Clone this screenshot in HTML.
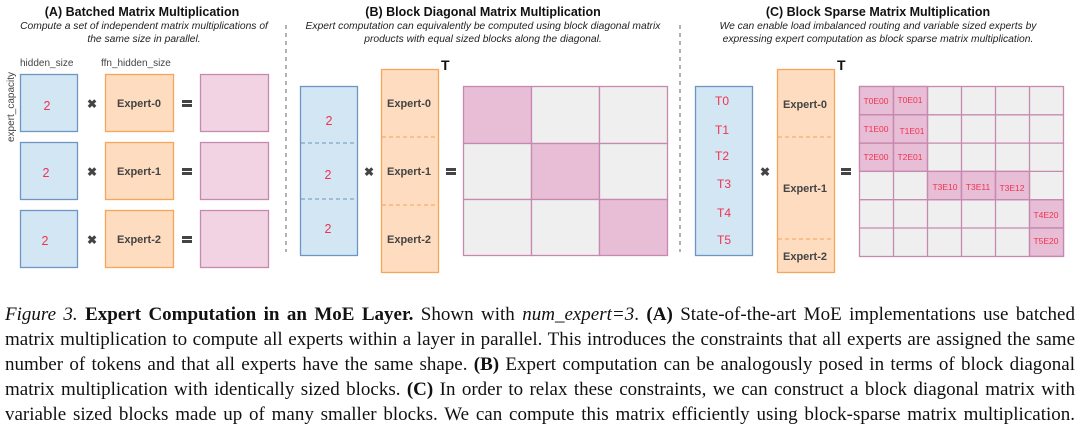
<!DOCTYPE html>
<html><head><meta charset="utf-8"><style>
body{margin:0;width:1080px;height:427px;background:#fff;overflow:hidden;position:relative}
svg{position:absolute;left:0;top:0}
.cap{position:absolute;left:5px;width:1070px;font-family:"Liberation Serif",serif;font-size:19px;color:#111;line-height:25px}
.cap div{text-align:justify;text-align-last:justify;white-space:nowrap;height:25px}
</style></head><body>
<svg width="1080" height="290" viewBox="0 0 1080 290" font-family="Liberation Sans, sans-serif">
<g font-weight="bold" font-size="12.5" fill="#111" text-anchor="middle">
<text x="142" y="16">(A) Batched Matrix Multiplication</text>
<text x="483" y="16">(B) Block Diagonal Matrix Multiplication</text>
<text x="878" y="16">(C) Block Sparse Matrix Multiplication</text>
</g>
<g font-style="italic" font-size="10.3" fill="#222" text-anchor="middle">
<text x="144" y="29">Compute a set of independent matrix multiplications of</text>
<text x="144" y="42">the same size in parallel.</text>
<text x="483" y="29">Expert computation can equivalently be computed using block diagonal matrix</text>
<text x="483" y="42">products with equal sized blocks along the diagonal.</text>
<text x="878" y="29">We can enable load imbalanced routing and variable sized experts by</text>
<text x="878" y="42">expressing expert computation as block sparse matrix multiplication.</text>
</g>
<g stroke="#666" stroke-dasharray="4,4" stroke-width="1"><line x1="286" y1="25" x2="286" y2="252"/><line x1="680" y1="25" x2="680" y2="252"/></g>
<g font-size="10" fill="#444"><text x="20" y="66">hidden_size</text><text x="101" y="66">ffn_hidden_size</text>
<text transform="translate(14,142) rotate(-90)">expert_capacity</text></g>
<g stroke-width="1.3">
<rect x="20.5" y="74.5" width="57" height="57" fill="#d3e6f4" stroke="#6e96c3"/>
<rect x="20.5" y="142.5" width="57" height="57" fill="#d3e6f4" stroke="#6e96c3"/>
<rect x="20.5" y="210.5" width="57" height="57" fill="#d3e6f4" stroke="#6e96c3"/>
<rect x="105.5" y="74.5" width="68" height="57" fill="#fedcbf" stroke="#f6a55a"/>
<rect x="105.5" y="142.5" width="68" height="57" fill="#fedcbf" stroke="#f6a55a"/>
<rect x="105.5" y="210.5" width="68" height="57" fill="#fedcbf" stroke="#f6a55a"/>
<rect x="200.5" y="74.5" width="68" height="57" fill="#f1d3e4" stroke="#c68ab0"/>
<rect x="200.5" y="142.5" width="68" height="57" fill="#f1d3e4" stroke="#c68ab0"/>
<rect x="200.5" y="210.5" width="68" height="57" fill="#f1d3e4" stroke="#c68ab0"/>
</g>
<g font-size="12.5" fill="#f0334f" text-anchor="middle"><text x="47" y="110">2</text><text x="46" y="177">2</text><text x="45" y="245">2</text></g>
<g font-size="11" font-weight="bold" fill="#444" text-anchor="middle"><text x="139" y="107">Expert-0</text><text x="139" y="175">Expert-1</text><text x="139" y="243">Expert-2</text></g>
<g font-size="12" fill="#444" text-anchor="middle" font-weight="bold">
<text x="92" y="108">✖</text><text x="92" y="176">✖</text><text x="92" y="244">✖</text>
<text x="369" y="176">✖</text><text x="765" y="176">✖</text></g>
<g fill="#444"><rect x="182" y="100" width="10" height="3"/><rect x="182" y="104" width="10" height="3"/>
<rect x="182" y="168" width="10" height="3"/><rect x="182" y="172" width="10" height="3"/>
<rect x="182" y="236" width="10" height="3"/><rect x="182" y="240" width="10" height="3"/>
<rect x="446" y="168" width="10" height="3"/><rect x="446" y="172" width="10" height="3"/>
<rect x="841" y="168" width="10" height="3"/><rect x="841" y="172" width="10" height="3"/></g>
<rect x="300.5" y="86.5" width="57" height="169" fill="#d3e6f4" stroke="#6e96c3" stroke-width="1.3"/>
<g stroke="#6e96c3" stroke-dasharray="4,3"><line x1="301" y1="143" x2="357" y2="143"/><line x1="301" y1="199" x2="357" y2="199"/>
<line x1="696" y1="171" x2="752" y2="171"/><line x1="696" y1="199" x2="752" y2="199"/></g>
<g font-size="12.5" fill="#f0334f" text-anchor="middle"><text x="329" y="125">2</text><text x="328" y="179">2</text><text x="328" y="233">2</text></g>
<rect x="381.5" y="69.5" width="57" height="203" fill="#fedcbf" stroke="#f6a55a" stroke-width="1.3"/>
<rect x="777.5" y="69.5" width="57" height="203" fill="#fedcbf" stroke="#f6a55a" stroke-width="1.3"/>
<g stroke="#f6a55a" stroke-dasharray="4,3"><line x1="382" y1="137" x2="438" y2="137"/><line x1="382" y1="205" x2="438" y2="205"/>
<line x1="778" y1="137" x2="834" y2="137"/><line x1="778" y1="239" x2="834" y2="239"/></g>
<g font-size="11" font-weight="bold" fill="#444" text-anchor="middle"><text x="409" y="107">Expert-0</text><text x="409" y="175">Expert-1</text><text x="409" y="243">Expert-2</text>
<text x="805" y="108">Expert-0</text><text x="805" y="192">Expert-1</text><text x="805" y="260">Expert-2</text></g>
<g font-size="14" font-weight="bold" fill="#111"><text x="441" y="70">T</text><text x="837" y="70">T</text></g>
<g stroke="#c68ab0" stroke-width="1.3">
<rect x="463.5" y="86.5" width="68" height="57" fill="#e8bdd6"/><rect x="531.5" y="86.5" width="68" height="57" fill="#efefef"/><rect x="599.5" y="86.5" width="68" height="57" fill="#efefef"/>
<rect x="463.5" y="143.5" width="68" height="56" fill="#efefef"/><rect x="531.5" y="143.5" width="68" height="56" fill="#e8bdd6"/><rect x="599.5" y="143.5" width="68" height="56" fill="#efefef"/>
<rect x="463.5" y="199.5" width="68" height="56" fill="#efefef"/><rect x="531.5" y="199.5" width="68" height="56" fill="#efefef"/><rect x="599.5" y="199.5" width="68" height="56" fill="#e8bdd6"/>
</g>
<rect x="695.5" y="86.5" width="57" height="169" fill="#d3e6f4" stroke="#6e96c3" stroke-width="1.3"/>
<g font-size="12" fill="#f0334f" text-anchor="middle"><text x="722" y="105">T0</text><text x="722" y="134">T1</text><text x="722" y="160">T2</text><text x="724" y="188">T3</text><text x="724" y="217">T4</text><text x="724" y="244">T5</text></g>
<rect x="859.5" y="86.5" width="204" height="170" stroke="#c68ab0" stroke-width="1.3" fill="#efefef"/>
<g stroke="#c68ab0" stroke-width="1.3" fill="#e8bdd6">
<rect x="859.5" y="86.5" width="34" height="28.3"/><rect x="893.5" y="86.5" width="34" height="28.3"/>
<rect x="859.5" y="114.8" width="34" height="28.3"/><rect x="893.5" y="114.8" width="34" height="28.3"/>
<rect x="859.5" y="143.1" width="34" height="28.3"/><rect x="893.5" y="143.1" width="34" height="28.3"/>
<rect x="927.5" y="171.4" width="34" height="28.3"/><rect x="961.5" y="171.4" width="34" height="28.3"/><rect x="995.5" y="171.4" width="34" height="28.3"/>
<rect x="1029.5" y="199.7" width="34" height="28.3"/><rect x="1029.5" y="228" width="34" height="28.3"/>
</g>
<g stroke="#c68ab0" stroke-width="1.3">
<line x1="893.5" y1="86" x2="893.5" y2="256"/><line x1="927.5" y1="86" x2="927.5" y2="256"/><line x1="961.5" y1="86" x2="961.5" y2="256"/><line x1="995.5" y1="86" x2="995.5" y2="256"/><line x1="1029.5" y1="86" x2="1029.5" y2="256"/>
<line x1="859" y1="114.8" x2="1063" y2="114.8"/><line x1="859" y1="143.1" x2="1063" y2="143.1"/><line x1="859" y1="171.4" x2="1063" y2="171.4"/><line x1="859" y1="199.7" x2="1063" y2="199.7"/><line x1="859" y1="228" x2="1063" y2="228"/>
</g>
<g font-size="8.5" fill="#f0334f" text-anchor="middle">
<text x="876" y="104">T0E00</text><text x="910" y="103">T0E01</text>
<text x="876" y="132">T1E00</text><text x="912" y="134">T1E01</text>
<text x="876" y="160">T2E00</text><text x="910" y="160">T2E01</text>
<text x="945" y="190">T3E10</text><text x="978" y="190">T3E11</text><text x="1012" y="191">T3E12</text>
<text x="1046" y="218">T4E20</text><text x="1046" y="244">T5E20</text></g>
</svg>
<div class="cap" style="top:302px">
<div><i>Figure 3.</i> <b>Expert Computation in an MoE Layer.</b> Shown with <i>num_expert=3</i>. <b>(A)</b> State-of-the-art MoE implementations use batched</div>
<div>matrix multiplication to compute all experts within a layer in parallel. This introduces the constraints that all experts are assigned the same</div>
<div>number of tokens and that all experts have the same shape. <b>(B)</b> Expert computation can be analogously posed in terms of block diagonal</div>
<div>matrix multiplication with identically sized blocks. <b>(C)</b> In order to relax these constraints, we can construct a block diagonal matrix with</div>
<div>variable sized blocks made up of many smaller blocks. We can compute this matrix efficiently using block-sparse matrix multiplication.</div>
</div>
</body></html>
